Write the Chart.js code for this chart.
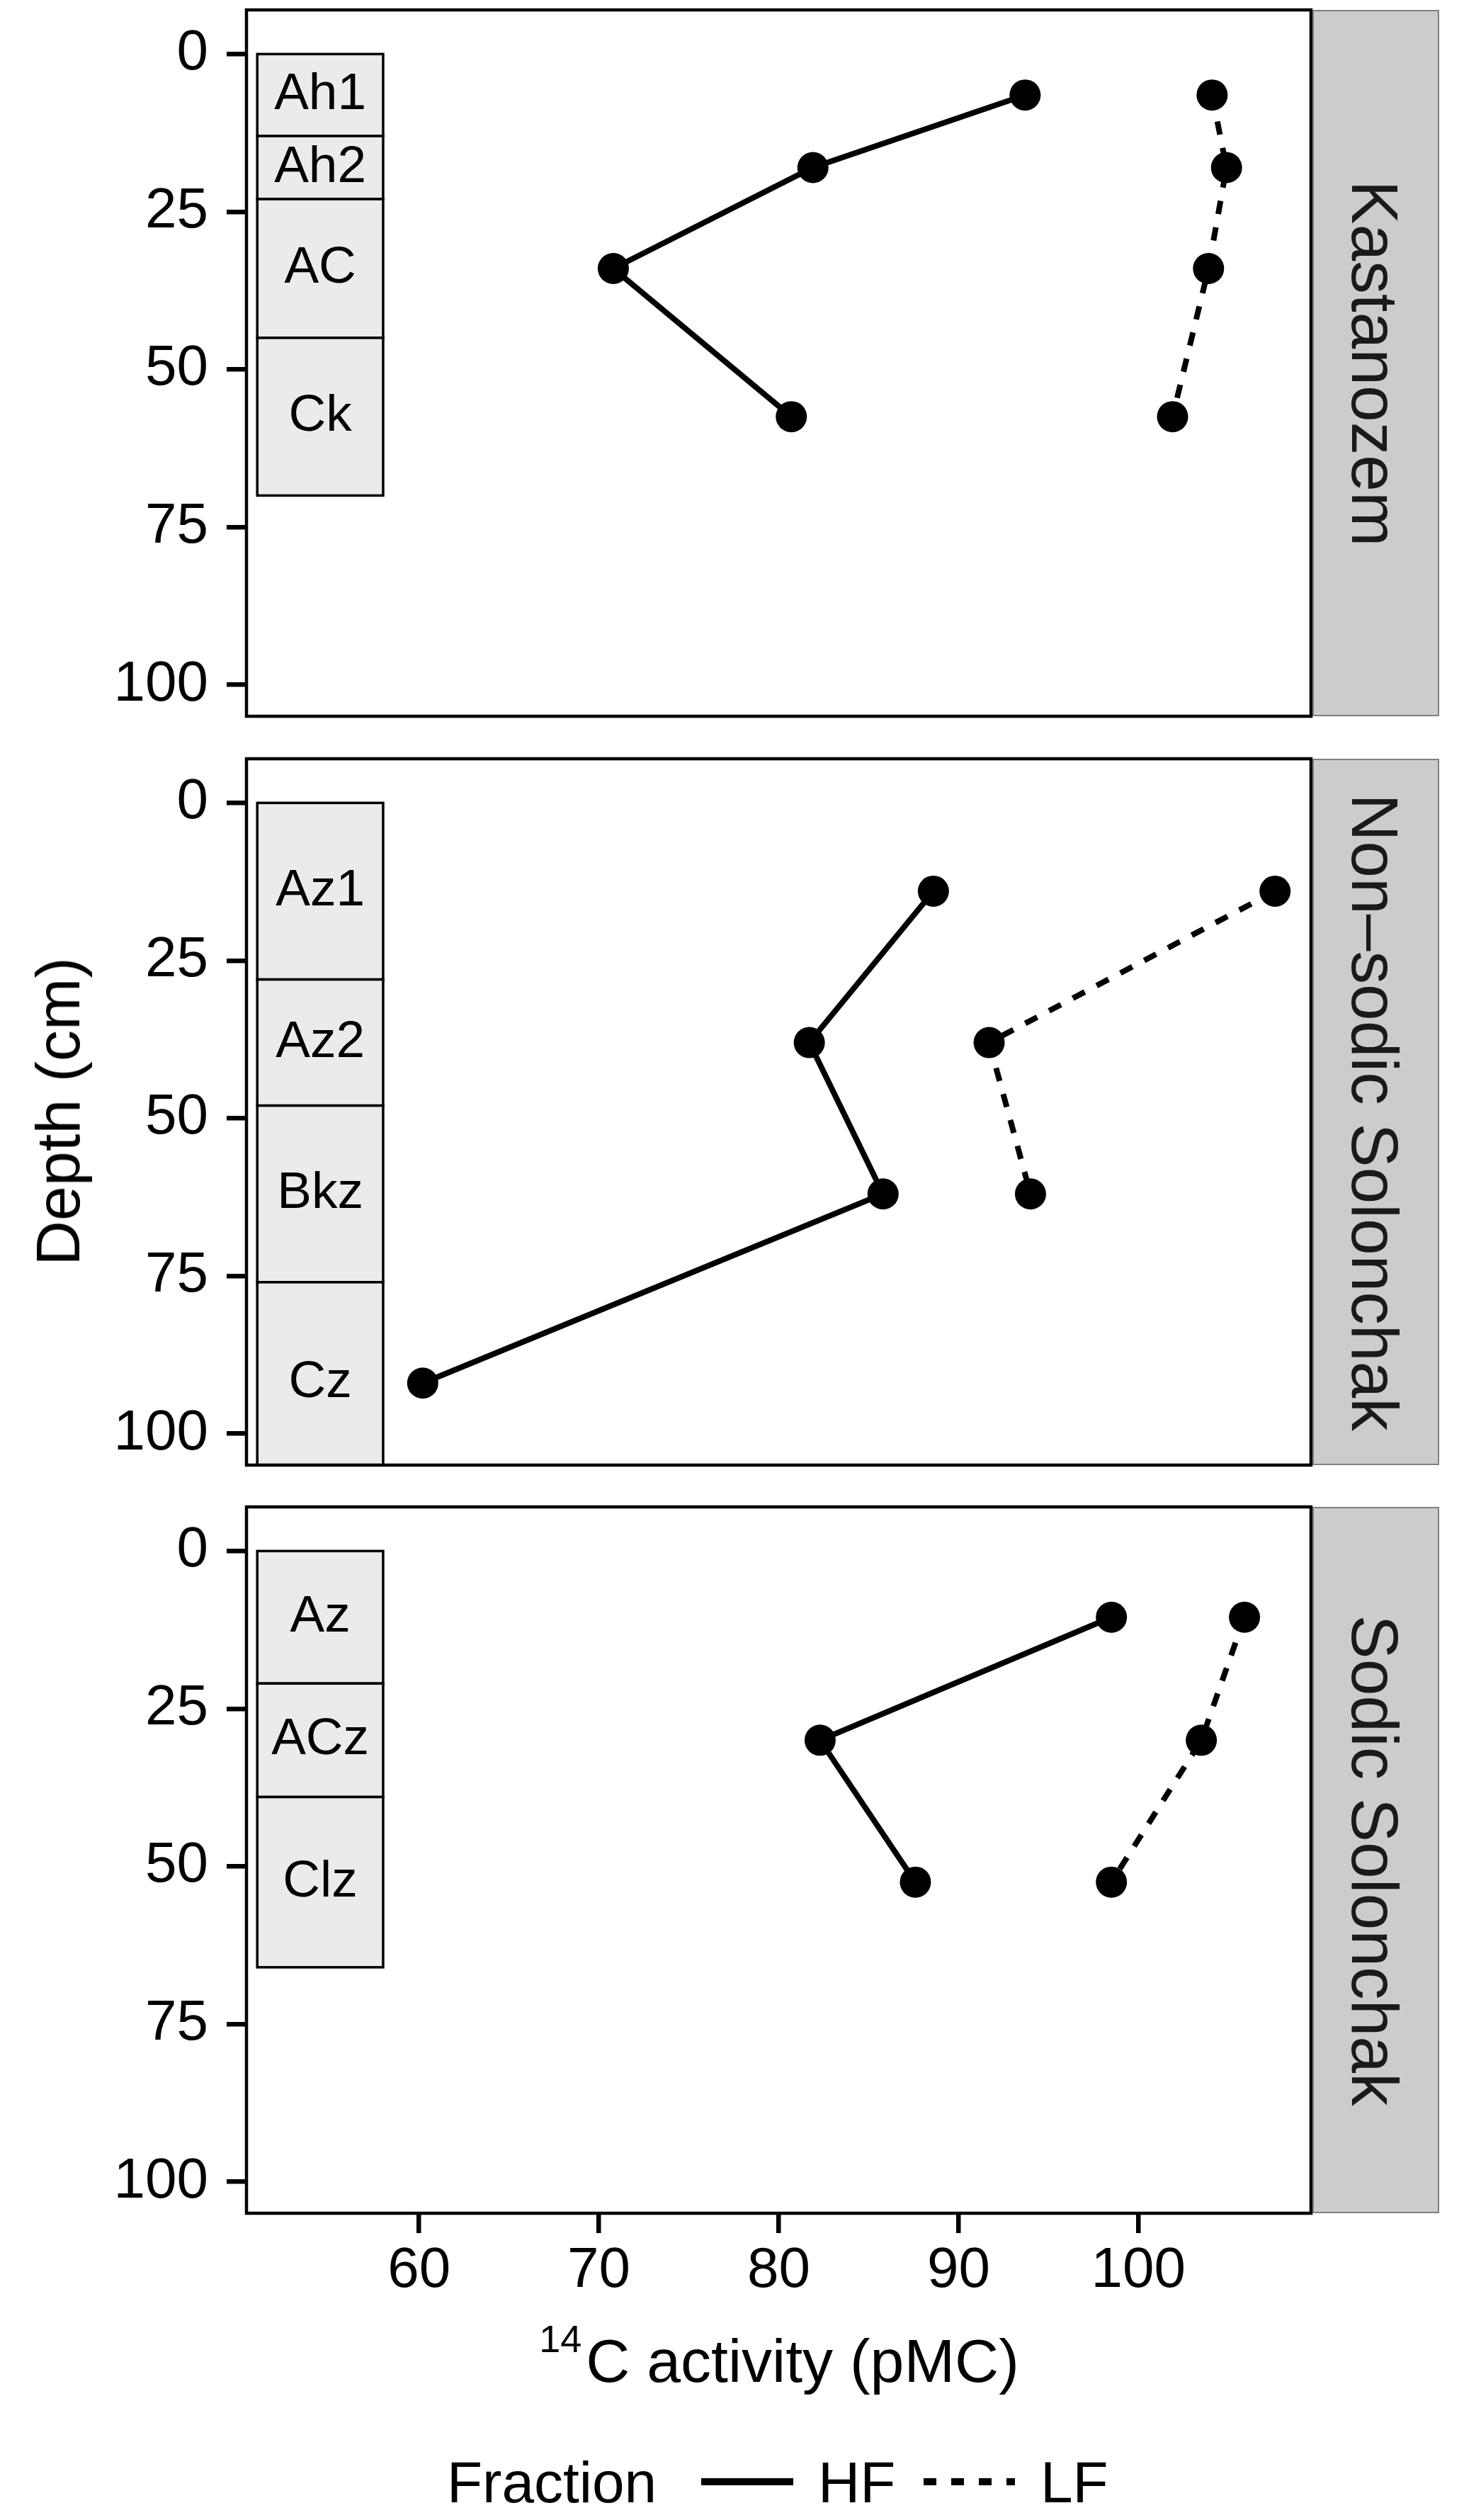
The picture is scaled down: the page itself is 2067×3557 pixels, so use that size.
<!DOCTYPE html>
<html>
<head>
<meta charset="utf-8">
<title>14C activity by depth</title>
<script src="https://cdn.jsdelivr.net/npm/chart.js@4.4.1/dist/chart.umd.min.js"></script>
<style>
  html, body { margin:0; padding:0; background:#fff; }
  body { position:relative; width:2067px; height:3557px; overflow:hidden; font-family:"Liberation Sans", Arial, sans-serif; color:#000; }
  canvas.panel { position:absolute; left:0; }
  .strip { position:absolute; left:1853px; width:179px; height:997px; box-sizing:border-box; background:#cccccc; border:2.5px solid #7f7f7f; }
  .strip span { position:absolute; left:50%; top:50%; white-space:nowrap; font-size:93px; line-height:1; color:#1a1a1a; transform:translate(-50%,-50%) translateX(-3px) rotate(90deg); }
  .ytitle { position:absolute; left:82px; top:1569px; white-space:nowrap; font-size:88px; line-height:1; transform:translate(-50%,-50%) rotate(-90deg); }
  .xtitle { position:absolute; left:1100px; top:3289px; white-space:nowrap; font-size:86px; line-height:1; transform:translateX(-50%); }
  .xtitle sup { font-size:54px; line-height:1; vertical-align:baseline; position:relative; top:-42px; margin-right:6px; }
  .leg { position:absolute; font-size:82px; line-height:1; top:3463px; white-space:nowrap; }
  .key { position:absolute; top:3498px; height:10px; }
</style>
</head>
<body>
<canvas id="p0" class="panel"></canvas>
<canvas id="p1" class="panel"></canvas>
<canvas id="p2" class="panel"></canvas>
<div class="ytitle">Depth (cm)</div>
<div class="xtitle"><sup>14</sup>C activity (pMC)</div>
<span class="leg" style="left:631px">Fraction</span>
<div class="key" style="left:990px;width:130px;background:#000"></div>
<span class="leg" style="left:1155px">HF</span>
<div class="key" style="left:1304px;width:129px;background:repeating-linear-gradient(90deg,#000 0 18px,transparent 18px 39px)"></div>
<span class="leg" style="left:1469px">LF</span>
<script>
var profileNames = ['Kastanozem', 'Non\u2013sodic Solonchak', 'Sodic Solonchak'];

// Kastanozem
var kastHorizons = ['Ah1', 'Ah2', 'AC', 'Ck'];
var kastUpper = [0, 13, 23, 45];
var kastLower = [13, 23, 45, 70];
var kastDepth = [6.5, 18, 34, 57.5];
var kastHF = [93.7, 81.9, 70.8, 80.7];
var kastLF = [104.1, 104.9, 103.9, 101.9];

// Non-sodic Solonchak
var nonHorizons = ['Az1', 'Az2', 'Bkz', 'Cz'];
var nonUpper = [0, 28, 48, 76];
var nonLower = [28, 48, 76, 108];
var nonDepth = [14, 38, 62, 92];
var nonHF = [88.6, 81.7, 85.8, 60.2];
var nonLF = [107.6, 91.7, 94.0];

// Sodic Solonchak
var sodHorizons = ['Az', 'ACz', 'Clz'];
var sodUpper = [0, 21, 39];
var sodLower = [21, 39, 66];
var sodDepth = [10.5, 30, 52.5];
var sodHF = [98.5, 82.3, 87.6];
var sodLF = [105.9, 103.5, 98.5];

var xTicks = [60, 70, 80, 90, 100];
var yTicks = [0, 25, 50, 75, 100];
var boxLeft = 51, boxRight = 58;      // horizon column, in pMC units
var xMin = 50.4, xMax = 109.6, yMin = -7, yMax = 105;

(function(){
    var PAD = 60, AREA_H = 997, XAXIS_H = 130;
    var panelTops = [14, 1071, 2127];

    Chart.defaults.font.family = '"Liberation Sans", Arial, sans-serif';
    Chart.defaults.color = '#000';

    var horizonBoxes = {
        id: 'horizonBoxes',
        beforeDatasetsDraw: function(chart, args, o){
            var ctx = chart.ctx, a = chart.chartArea, xs = chart.scales.x, ys = chart.scales.y;
            var x0 = xs.getPixelForValue(boxLeft), x1 = xs.getPixelForValue(boxRight);
            ctx.save();
            ctx.beginPath();
            ctx.rect(a.left, a.top, a.right - a.left, a.bottom - a.top);
            ctx.clip();
            ctx.lineWidth = 3.5;
            ctx.strokeStyle = '#000';
            o.names.forEach(function(n, i){
                var y0 = ys.getPixelForValue(o.upper[i]), y1 = ys.getPixelForValue(o.lower[i]);
                ctx.fillStyle = '#ebebeb';
                ctx.fillRect(x0, y0, x1 - x0, y1 - y0);
                ctx.strokeRect(x0, y0, x1 - x0, y1 - y0);
            });
            ctx.fillStyle = '#000';
            ctx.font = '73px "Liberation Sans", Arial, sans-serif';
            ctx.textAlign = 'center';
            ctx.textBaseline = 'middle';
            o.names.forEach(function(n, i){
                ctx.fillText(n, (x0 + x1) / 2, ys.getPixelForValue((o.upper[i] + o.lower[i]) / 2));
            });
            ctx.restore();
        },
        afterDraw: function(chart){
            var ctx = chart.ctx, a = chart.chartArea;
            ctx.save();
            ctx.lineWidth = 4.5;
            ctx.strokeStyle = '#000';
            ctx.strokeRect(a.left, a.top, a.right - a.left, a.bottom - a.top);
            ctx.restore();
        }
    };

    function pts(values, depth){
        return values.map(function(v, i){ return {x: v, y: depth[i]}; });
    }

    function tickList(list){
        return function(s){ s.ticks = list.map(function(v){ return {value: v}; }); };
    }

    function makePanel(idx, names, upper, lower, depth, hf, lf, showX){
        var el = document.getElementById('p' + idx);
        var h = PAD + AREA_H + (showX ? XAXIS_H + 10 : PAD);
        el.width = 2067;
        el.height = h;
        el.style.top = (panelTops[idx] - PAD) + 'px';

        var common = { showLine: true, borderColor: '#000', backgroundColor: '#000', borderWidth: 8,
            pointRadius: 22, pointHoverRadius: 22, pointBorderWidth: 0, pointBackgroundColor: '#000', tension: 0 };

        new Chart(el.getContext('2d'), {
            type: 'scatter',
            data: { datasets: [
                Object.assign({ label: 'HF', data: pts(hf, depth) }, common),
                Object.assign({ label: 'LF', data: pts(lf, depth), borderDash: [19, 19] }, common)
            ] },
            plugins: [horizonBoxes],
            options: {
                responsive: false, animation: false, devicePixelRatio: 1,
                events: [],
                layout: { padding: { top: PAD, bottom: showX ? 10 : PAD, left: 0, right: 2067 - 1851 } },
                plugins: {
                    legend: { display: false },
                    tooltip: { enabled: false },
                    horizonBoxes: { names: names, upper: upper, lower: lower }
                },
                scales: {
                    x: {
                        type: 'linear', position: 'bottom', min: xMin, max: xMax, display: showX,
                        afterBuildTicks: tickList(xTicks),
                        afterFit: function(s){
                            s.height = showX ? XAXIS_H : 0;
                            s.paddingLeft = 0; s.paddingRight = 0;
                        },
                        grid: { drawOnChartArea: false, drawTicks: true, tickLength: 28, lineWidth: 6.5, color: '#000' },
                        border: { display: false },
                        ticks: { font: { size: 80 }, color: '#000', padding: 6, maxRotation: 0, autoSkip: false }
                    },
                    y: {
                        type: 'linear', position: 'left', reverse: true, min: yMin, max: yMax,
                        afterBuildTicks: tickList(yTicks),
                        afterFit: function(s){ s.width = 348; s.paddingTop = 0; s.paddingBottom = 0; },
                        grid: { drawOnChartArea: false, drawTicks: true, tickLength: 28, lineWidth: 6.5, color: '#000' },
                        border: { display: false },
                        ticks: { font: { size: 80 }, color: '#000', padding: 26, autoSkip: false }
                    }
                }
            }
        });

        var strip = document.createElement('div');
        strip.className = 'strip';
        strip.style.top = panelTops[idx] + 'px';
        var t = document.createElement('span');
        t.textContent = profileNames[idx];
        strip.appendChild(t);
        document.body.appendChild(strip);
    }

    makePanel(0, kastHorizons, kastUpper, kastLower, kastDepth, kastHF, kastLF, false);
    makePanel(1, nonHorizons, nonUpper, nonLower, nonDepth, nonHF, nonLF, false);
    makePanel(2, sodHorizons, sodUpper, sodLower, sodDepth, sodHF, sodLF, true);
})();
</script>
</body>
</html>
